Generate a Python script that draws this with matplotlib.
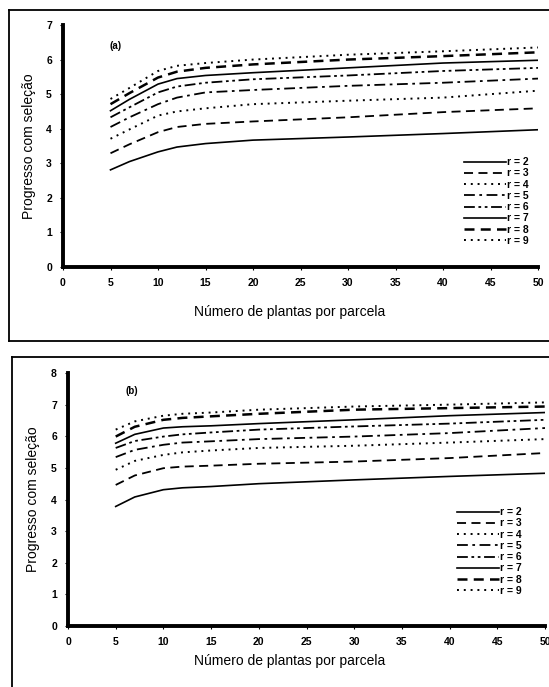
import matplotlib
matplotlib.use("Agg")
import matplotlib.pyplot as plt
from matplotlib.lines import Line2D

plt.rcParams['font.family'] = ['Liberation Sans', 'DejaVu Sans']

# Número de plantas por parcela
n_plants = [5, 7, 10, 12, 15, 20, 30, 40, 50]
labels = ["r = 2", "r = 3", "r = 4", "r = 5", "r = 6", "r = 7", "r = 8", "r = 9"]

# Panel (a)
a_r2 = [2.81, 3.05, 3.33, 3.47, 3.57, 3.67, 3.76, 3.86, 3.97]
a_r3 = [3.29, 3.55, 3.90, 4.05, 4.14, 4.21, 4.33, 4.48, 4.59]
a_r4 = [3.71, 3.98, 4.38, 4.50, 4.59, 4.71, 4.81, 4.90, 5.10]
a_r5 = [4.05, 4.33, 4.71, 4.90, 5.05, 5.12, 5.24, 5.33, 5.45]
a_r6 = [4.33, 4.62, 5.05, 5.22, 5.33, 5.43, 5.54, 5.67, 5.76]
a_r7 = [4.52, 4.85, 5.29, 5.45, 5.54, 5.62, 5.76, 5.90, 5.98]
a_r8 = [4.71, 5.03, 5.48, 5.65, 5.76, 5.86, 6.00, 6.10, 6.21]
a_r9 = [4.86, 5.18, 5.67, 5.82, 5.90, 6.00, 6.14, 6.24, 6.35]

# Panel (b)
b_r2 = [3.78, 4.08, 4.31, 4.37, 4.41, 4.50, 4.62, 4.73, 4.83]
b_r3 = [4.46, 4.76, 4.99, 5.04, 5.07, 5.13, 5.20, 5.31, 5.47]
b_r4 = [4.94, 5.22, 5.41, 5.49, 5.55, 5.63, 5.70, 5.80, 5.91]
b_r5 = [5.34, 5.57, 5.73, 5.80, 5.84, 5.91, 5.99, 6.10, 6.26]
b_r6 = [5.63, 5.85, 5.99, 6.06, 6.12, 6.21, 6.31, 6.40, 6.52]
b_r7 = [5.78, 6.06, 6.26, 6.30, 6.33, 6.40, 6.52, 6.65, 6.75]
b_r8 = [5.99, 6.30, 6.52, 6.58, 6.63, 6.71, 6.84, 6.89, 6.94]
b_r9 = [6.21, 6.47, 6.65, 6.71, 6.75, 6.84, 6.94, 7.00, 7.07]

styles = [
    dict(ls='-', lw=1.2),
    dict(ls=(0, (5, 3)), lw=1.3),
    dict(ls=(0, (1, 2.5)), lw=1.4),
    dict(ls=(0, (6, 2.5, 1.5, 2.5)), lw=1.3),
    dict(ls=(0, (6, 2, 1.5, 2, 1.5, 2)), lw=1.3),
    dict(ls='-', lw=1.2),
    dict(ls=(0, (4, 2.5)), lw=1.8),
    dict(ls=(0, (1, 2.5)), lw=1.4),
]

W, H = 549, 687
fig = plt.figure(figsize=(W / 100, H / 100), dpi=100)

def fx(px):
    return px / W

def fy(py):
    return 1 - py / H

# panel frames
frame_kw = dict(color='black', lw=1.3, transform=fig.transFigure)
fig.add_artist(Line2D([fx(9), fx(549)], [fy(10), fy(10)], **frame_kw))
fig.add_artist(Line2D([fx(9), fx(9)], [fy(10), fy(341)], **frame_kw))
fig.add_artist(Line2D([fx(9), fx(549)], [fy(341), fy(341)], **frame_kw))
fig.add_artist(Line2D([fx(12), fx(549)], [fy(357), fy(357)], **frame_kw))
fig.add_artist(Line2D([fx(12), fx(12)], [fy(357), fy(687)], **frame_kw))

def make_panel(rect, series, ymax, tag, tagpos, legend_anchor, ylab_x):
    ax = fig.add_axes(rect)
    for vals, st, lab in zip(series, styles, labels):
        ax.plot(n_plants, vals, color='black', label=lab, **st)
    ax.set_xlim(0, 50)
    ax.set_ylim(0, ymax)
    ax.set_xticks(range(0, 51, 5))
    ax.set_yticks(range(0, ymax + 1))
    for s in ['top', 'right']:
        ax.spines[s].set_visible(False)
    for s in ['left', 'bottom']:
        ax.spines[s].set_linewidth(2.8)
    ax.tick_params(axis='both', length=2, width=0.8, labelsize=7.5, pad=6)
    for t in ax.get_xticklabels() + ax.get_yticklabels():
        t.set_fontweight('bold')
    ax.set_ylabel("Progresso com seleção", fontsize=10)
    ax.yaxis.set_label_coords(ylab_x, 0.5)
    ax.text(tagpos[0], tagpos[1], tag, fontsize=7, fontweight='bold')
    leg = ax.legend(loc='upper left', bbox_to_anchor=legend_anchor, frameon=False,
                    fontsize=7.5, handlelength=4.0, handletextpad=0.1,
                    labelspacing=0.12, borderpad=0)
    for t in leg.get_texts():
        t.set_fontweight('bold')
    return ax

# Panel (a): x 0 at px 63, 50 at px 538; y 0 at px 267, 7 at px 25
axa = make_panel([fx(63), fy(267), (538 - 63) / W, (267 - 25) / H],
                 [a_r2, a_r3, a_r4, a_r5, a_r6, a_r7, a_r8, a_r9], 7, "(a)",
                 (4.9, 6.3), ((459 - 63) / 475, (267 - 152) / 242),
                 -(63 - 36) / 475)
fig.text(fx(290), fy(312), "Número de plantas por parcela", fontsize=10,
         ha='center', va='center')

# Panel (b): x 0 at px 68, 50 at px 545; y 0 at px 626, 8 at px 373
axb = make_panel([fx(68), fy(626), (545 - 68) / W, (626 - 373) / H],
                 [b_r2, b_r3, b_r4, b_r5, b_r6, b_r7, b_r8, b_r9], 8, "(b)",
                 (6.0, 7.35), ((452 - 68) / 477, (626 - 502) / 253),
                 -(68 - 40) / 477)
fig.text(fx(290), fy(661), "Número de plantas por parcela", fontsize=10,
         ha='center', va='center')

fig.savefig("out.png", dpi=100)
